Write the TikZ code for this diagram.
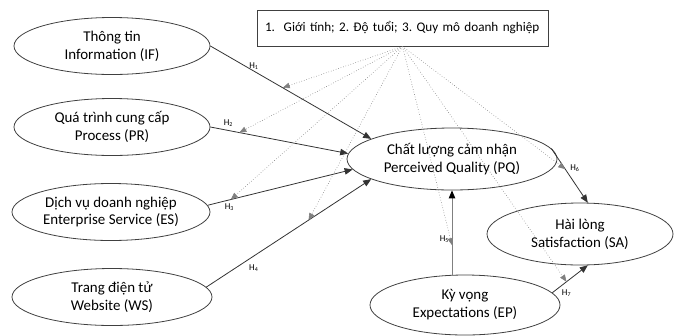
\documentclass[tikz,border=0pt]{standalone}
\usepackage{fontspec}
\setmainfont{Carlito}
\usetikzlibrary{shapes.geometric,arrows.meta,positioning}
\frenchspacing

\begin{document}
\begin{tikzpicture}[
    x=1bp, y=-1bp,
    construct/.style={
        ellipse,
        draw=black!75,
        line width=0.8bp,
        minimum width=#1,
        minimum height=57bp,
        inner sep=0pt,
        align=center,
        font=\fontsize{15}{18}\selectfont
    },
    effect/.style={draw=black!80, line width=0.8bp, -{Triangle[length=8bp,width=6.5bp]}},
    control/.style={draw=black!50, line width=0.6bp, dotted, -{Triangle[length=7bp,width=5.5bp,color=black!50,fill=black!50]}},
    hyp/.style={font=\fontsize{9}{10}\selectfont, inner sep=1.5pt}
]

\useasboundingbox (0,0) rectangle (674,335);

% left constructs
\node[construct=196bp] (IF) at (112,46) {Thông tin\\Information (IF)};
\node[construct=196bp] (PR) at (112,127) {Quá trình cung cấp\\Process (PR)};
\node[construct=198bp] (ES) at (111,212) {Dịch vụ doanh nghiệp\\Enterprise Service (ES)};
\node[construct=200bp] (WS) at (112,297) {Trang điện tử\\Website (WS)};

% right constructs
\node[construct=210bp, minimum height=62bp] (PQ) at (452,159) {Chất lượng cảm nhận\\Perceived Quality (PQ)};
\node[construct=186bp, minimum height=62bp] (SA) at (580,234) {Hài lòng\\Satisfaction (SA)};
\node[construct=190bp, minimum height=60bp] (EP) at (465,305) {Kỳ vọng\\Expectations (EP)};

% control variables
\node[
    draw=black!75,
    line width=0.8bp,
    minimum width=291bp,
    minimum height=36bp,
    text width=275bp,
    align=left,
    inner xsep=8bp,
    font=\fontsize{13.2}{15}\selectfont
] (CV) at (402.5,28)
{1.\ \ Giới tính; 2. Độ tuổi; 3. Quy mô doanh nghiệp};

% hypotheses
\draw[effect] (IF.east) -- coordinate[pos=0.45] (h1) node[hyp, pos=0.27, above] {H\textsubscript{1}} (PQ.166);
\draw[effect] (PR.east) -- coordinate[pos=0.21] (h2) node[hyp, pos=0.13, above=2bp] {H\textsubscript{2}} (PQ.177);
\draw[effect] (ES.4) -- coordinate[pos=0.16] (h3) node[hyp, pos=0.15, below=2bp] {H\textsubscript{3}} (PQ.186);
\draw[effect] (WS.6) -- coordinate[pos=0.62] (h4) node[hyp, pos=0.24, below right=2bp] {H\textsubscript{4}} (PQ.194);
\draw[draw=black!50, line width=1bp, -{Triangle[length=8bp,width=6.5bp,color=black,fill=black]}] (EP.north -| PQ.south) -- coordinate[pos=0.35] (h5) node[hyp, pos=0.42, left=1bp] {H\textsubscript{5}} (PQ.south);
\draw[effect] (PQ.6) -- coordinate[pos=0.38] (h6) node[hyp, pos=0.36, right=4bp] {H\textsubscript{6}} (SA.76);
\draw[effect] (EP.8) -- coordinate[pos=0.4] (h7) node[hyp, pos=0.2, below right=1bp] {H\textsubscript{7}} (SA.284);

% moderating effects
\foreach \h in {h1,h2,h3,h4,h5,h6,h7}
    \draw[control] (CV.south) -- (\h);

\end{tikzpicture}
\end{document}
